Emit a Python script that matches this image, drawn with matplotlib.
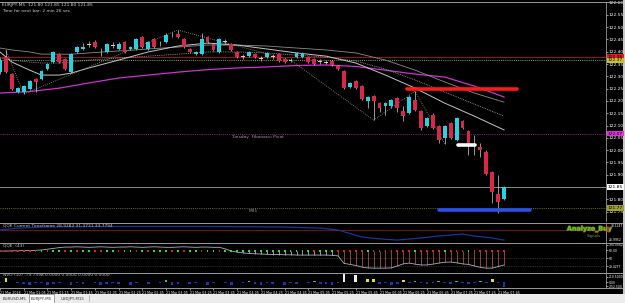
import matplotlib
matplotlib.use("Agg")
import matplotlib.pyplot as plt
import matplotlib.patheffects as pe
import matplotlib.transforms as mtransforms
from matplotlib.lines import Line2D
from matplotlib.patches import Rectangle

W, H = 625, 303

# ---- EURJPY M5 candles (21 Mar, 00:45 .. 07:50) ----
opens = [122.317, 122.378, 122.309, 122.236, 122.236, 122.248, 122.289, 122.289, 122.329, 122.358,
         122.390, 122.370, 122.317, 122.399, 122.411, 122.431, 122.439, 122.403, 122.399, 122.427,
         122.411, 122.439, 122.411, 122.411, 122.460, 122.411, 122.451, 122.433, 122.439, 122.470,
         122.472, 122.451, 122.411, 122.390, 122.390, 122.460, 122.431, 122.399, 122.443, 122.431,
         122.399, 122.382, 122.382, 122.390, 122.374, 122.378, 122.382, 122.390, 122.370, 122.366,
         122.378, 122.378, 122.378, 122.370, 122.362, 122.358, 122.362, 122.342, 122.321, 122.256,
         122.281, 122.260, 122.199, 122.220, 122.191, 122.179, 122.179, 122.212, 122.159, 122.151,
         122.204, 122.159, 122.098, 122.143, 122.098, 122.049, 122.110, 122.041, 122.118, 122.077,
         122.006, 122.012, 121.992, 121.911, 121.821, 121.801]
highs = [122.374, 122.407, 122.313, 122.256, 122.264, 122.285, 122.293, 122.325, 122.354, 122.403,
         122.395, 122.374, 122.395, 122.423, 122.435, 122.443, 122.447, 122.415, 122.435, 122.439,
         122.439, 122.443, 122.423, 122.456, 122.464, 122.443, 122.456, 122.443, 122.476, 122.480,
         122.488, 122.456, 122.415, 122.403, 122.476, 122.464, 122.435, 122.456, 122.451, 122.435,
         122.403, 122.390, 122.403, 122.395, 122.382, 122.399, 122.390, 122.395, 122.374, 122.374,
         122.399, 122.399, 122.382, 122.374, 122.370, 122.366, 122.366, 122.346, 122.325, 122.277,
         122.285, 122.264, 122.220, 122.224, 122.195, 122.195, 122.208, 122.216, 122.179, 122.224,
         122.240, 122.163, 122.134, 122.151, 122.102, 122.102, 122.114, 122.134, 122.122, 122.082,
         122.061, 122.029, 122.000, 121.915, 121.899, 121.854]
lows = [122.309, 122.313, 122.244, 122.232, 122.228, 122.244, 122.236, 122.285, 122.325, 122.354,
        122.354, 122.325, 122.313, 122.395, 122.407, 122.419, 122.415, 122.382, 122.395, 122.415,
        122.407, 122.395, 122.407, 122.407, 122.415, 122.407, 122.415, 122.423, 122.435, 122.460,
        122.456, 122.415, 122.395, 122.386, 122.386, 122.435, 122.403, 122.395, 122.431, 122.403,
        122.374, 122.370, 122.378, 122.374, 122.362, 122.374, 122.370, 122.358, 122.354, 122.358,
        122.374, 122.374, 122.354, 122.346, 122.350, 122.350, 122.342, 122.325, 122.248, 122.252,
        122.248, 122.204, 122.171, 122.122, 122.155, 122.143, 122.171, 122.155, 122.118, 122.147,
        122.159, 122.082, 122.094, 122.086, 122.029, 122.025, 122.045, 122.037, 122.086, 121.980,
        121.980, 121.972, 121.899, 121.785, 121.744, 121.797]
closes = [122.366, 122.317, 122.248, 122.252, 122.260, 122.281, 122.277, 122.321, 122.350, 122.399,
          122.358, 122.329, 122.390, 122.419, 122.419, 122.429, 122.419, 122.401, 122.431, 122.425,
          122.431, 122.399, 122.419, 122.451, 122.419, 122.439, 122.419, 122.431, 122.468, 122.472,
          122.460, 122.419, 122.399, 122.399, 122.451, 122.439, 122.407, 122.451, 122.441, 122.407,
          122.378, 122.380, 122.399, 122.378, 122.372, 122.395, 122.380, 122.362, 122.358, 122.364,
          122.395, 122.395, 122.358, 122.350, 122.360, 122.356, 122.346, 122.329, 122.252, 122.273,
          122.252, 122.208, 122.216, 122.199, 122.171, 122.191, 122.204, 122.171, 122.138, 122.216,
          122.163, 122.090, 122.130, 122.090, 122.041, 122.098, 122.049, 122.130, 122.090, 122.021,
          122.004, 122.000, 121.903, 121.830, 121.789, 121.850]

# moving averages (sampled at bar indices)
ma_idx = [0, 5, 10, 15, 20, 25, 30, 35, 40, 45, 50, 55, 60, 65, 70, 75, 80, 85]
ma_magenta = [122.232, 122.238, 122.252, 122.273, 122.293, 122.305, 122.317, 122.327, 122.334,
              122.338, 122.344, 122.346, 122.340, 122.325, 122.309, 122.297, 122.260, 122.216]
ema_idx = [0, 2, 5, 7, 10, 12, 15, 20, 25, 30, 35, 40, 45, 50, 55, 60, 65, 70, 75, 80, 85]
ema_fast = [122.399, 122.358, 122.325, 122.305, 122.305, 122.313, 122.334, 122.366, 122.399, 122.423,
            122.435, 122.427, 122.411, 122.395, 122.382, 122.354, 122.305, 122.252, 122.191, 122.138, 122.082]
ema_mid = [122.374, 122.366, 122.358, 122.354, 122.354, 122.358, 122.366, 122.374, 122.382, 122.390,
           122.399, 122.399, 122.395, 122.386, 122.378, 122.362, 122.329, 122.285, 122.236, 122.187, 122.138]
ema_slow = [122.415, 122.407, 122.399, 122.390, 122.390, 122.390, 122.395, 122.403, 122.411, 122.419,
            122.427, 122.427, 122.423, 122.415, 122.407, 122.395, 122.366, 122.325, 122.277, 122.232, 122.195]
zz_idx = [1, 4, 30, 49, 63, 70, 75]
zz_price = [122.407, 122.228, 122.488, 122.366, 122.122, 122.240, 122.025]

# horizontal levels
level_prices = [122.378, 122.365, 122.067, 121.850, 121.765]
level_colors = ["#8b1a1a", "#9a9a6a", "#a020a0", "#8a8a8a", "#6e6e2a"]
level_styles = ["-", ":", ":", "-", ":"]
level_tags = ["122.38", "122.37", "122.07", "121.85", "121.77"]
tag_colors = ["#e02020", "#c8c030", "#e030e0", "#ffffff", "#a0a030"]

# drawn zones: (start bar, end bar, price, colour)
zones = [(68.6, 87.2, 122.248, "#ff1a1a"), (77.2, 80.1, 122.021, "#ffffff"), (74.0, 89.4, 121.756, "#2a50e8")]

price_ticks = [121.75, 121.80, 121.90, 121.95, 122.00, 122.05, 122.10, 122.15, 122.20,
               122.25, 122.30, 122.35, 122.40, 122.45, 122.50, 122.55, 122.60]

# QQE current timeframe panel
qqe_tf_idx = [0, 3, 8, 17, 34, 47, 54, 57, 61, 64, 67, 71, 74, 78, 80, 83, 85]
qqe_tf = [34.4, 35.6, 36.3, 36.6, 36.6, 36.3, 35.6, 34.4, 30.1, 28.9, 28.2, 29.5, 30.7, 31.9, 30.7, 29.5, 28.2]
qqe_tf_level = 34.7

# QQE(43) panel
qqe_line = [76, 76, 77, 77, 78, 78, 79, 80, 83, 86, 89, 91,
            91, 92, 91, 90, 91, 92, 91, 90, 91, 91, 92, 91, 90, 91, 92, 91, 90, 90, 91, 92, 91, 90, 91, 91, 90,
            90, 84, 76, 72, 69, 67, 66, 65,
            64, 63, 63, 62, 62, 61, 61, 61, 61, 61, 61, 60,
            58, 30, 26, 22, 16, 13, 12, 12, 12, 13, 20, 28, 31, 27, 24, 24, 27, 31, 34, 35, 32, 28, 26,
            20, 15, 12, 12, 18, 24]
qqe_dots = ("rrrrrrr"
            "grggrgrggrrggrggrgrgggrgrggrggrg"
            "ggggggggggggggrggg"
            "rrrrrgrrrrrrrgrrrrgrrrgrrrrrr")
qqe_levels = [50, 20]

# NVO(10) histogram
nvo = [-1, 4, 0.5, -1, -2, -2.5, -1, -0.5, -2.5, -2, -0.5, 0.5, -2.5, -0.5, -2, 0.5, -0.5, -2.5, -2, -0.5,
       -2, 0.5, -2.5, -0.5, 0.5, -2, 0.5, -0.5, 2, -2.5, -2, 0.5, -2, -0.5, 0.5, -2.5, -0.5, 0.5, -0.5, -2.5,
       0.5, -0.5, 1.5, -2, -2.5, -0.5, -2, 0.5, -2.5, -0.5, -2, 0.5, -0.5, 1.5, -2, -1.5, -2.5, -0.5, 9, 0.5,
       7.5, 0.5, 3.5, 3, -1.5, -0.5, -2.5, -2, 2.5, -0.5, 1.5, -0.5, -2, -0.5, 1.5, -0.5, -2, 1, -0.5, -1.5,
       -0.5, 1.5, -0.5, 3, -0.5, -4.5]

time_ticks = list(range(0, 85, 4))
time_labels = ["21 Mar 2018", "21 Mar 01:05", "21 Mar 01:25", "21 Mar 01:45", "21 Mar 02:05",
               "21 Mar 02:25", "21 Mar 02:45", "21 Mar 03:05", "21 Mar 03:25", "21 Mar 03:45",
               "21 Mar 04:05", "21 Mar 04:25", "21 Mar 04:45", "21 Mar 05:05", "21 Mar 05:25",
               "21 Mar 05:45", "21 Mar 06:05", "21 Mar 06:25", "21 Mar 06:45", "21 Mar 07:05",
               "21 Mar 07:25", "21 Mar 07:45"]
tabs = ["EURUSD,M5", "EURJPY,M5", "USDJPY,M15"]

BULL, BEAR, WICK = "#27d3de", "#d8264c", "#d0d0d0"
FS = 3.2
FS_SUB = 2.2
XMAX = 606 / 5.93


def px_axes(fig, x0, y0, x1, y1, fs=FS):
    ax = fig.add_axes([x0 / W, 1 - y1 / H, (x1 - x0) / W, (y1 - y0) / H])
    ax.set_facecolor("black")
    ax.set_xlim(0, XMAX)
    for s in ax.spines.values():
        s.set_visible(False)
    ax.spines["right"].set_visible(True)
    ax.spines["right"].set_color("#9a9a9a")
    ax.spines["right"].set_linewidth(0.6)
    ax.yaxis.tick_right()
    ax.tick_params(axis="y", colors="white", labelsize=fs, length=1.2, width=0.4, pad=0.6)
    ax.tick_params(axis="x", bottom=False, labelbottom=False)
    return ax


def main():
    fig = plt.figure(figsize=(W / 100, H / 100), dpi=100, facecolor="black")

    # ---------- main price panel ----------
    ax = px_axes(fig, 0, 2, 606, 221)
    ax.set_ylim(121.712, 122.602)
    ax.set_yticks(price_ticks)
    ax.set_yticklabels([f"{p:.2f}" for p in price_ticks])

    for p, c, ls in zip(level_prices, level_colors, level_styles):
        ax.axhline(p, color=c, lw=0.7, ls=ls if ls == "-" else (0, (1, 1.2)), zorder=1)
    ax.text(39, level_prices[2] - 0.004, "Tuesday  Fibonacci Pivot", color="#a0a0a0",
            fontsize=FS, va="top", zorder=2)
    ax.text(42, level_prices[4] - 0.004, "MS1", color="#a0a0a0", fontsize=FS, va="top", zorder=2)

    ax.plot(ma_idx, ma_magenta, color="#cc33cc", lw=0.9, zorder=2)
    ax.plot(ema_idx, ema_slow, color="#8c8c8c", lw=0.6, zorder=2)
    ax.plot(ema_idx, ema_mid, color="#a8a8a8", lw=0.6, ls=(0, (1, 1.2)), zorder=2)
    ax.plot(ema_idx, ema_fast, color="#c4c4c4", lw=0.7, zorder=2)
    ax.plot(zz_idx, zz_price, color="#9a9a80", lw=0.6, ls=(0, (1, 1.5)), zorder=2)

    for i, (o, h, l, c) in enumerate(zip(opens, highs, lows, closes)):
        col = BULL if c >= o else BEAR
        ax.vlines(i, l, h, color=WICK, lw=0.5, zorder=3)
        ax.bar(i, abs(c - o) if abs(c - o) > 0.0015 else 0.0015, bottom=min(o, c), width=0.65,
               color=col if abs(c - o) > 0.003 else WICK, edgecolor="none", zorder=4)

    for x0, x1, p, c in zones:
        ax.plot([x0, x1], [p, p], color=c, lw=2.6, solid_capstyle="round", zorder=5)

    tr = mtransforms.blended_transform_factory(ax.transAxes, ax.transData)
    for p, t, c in zip(level_prices, level_tags, tag_colors):
        ax.text(1.003, p, t, transform=tr, fontsize=FS, color="black", va="center", ha="left",
                bbox=dict(boxstyle="square,pad=0.15", fc=c, ec="none"), zorder=6, clip_on=False)

    fig.text(2 / W, 1 - 5 / H, "EURJPY,M5  121.80 121.85 121.80 121.85", color="#d0d0d0",
             fontsize=FS, va="center")
    fig.text(2 / W, 1 - 10.5 / H, "Time for next bar: 2 min 26 sec", color="#d0d0d0",
             fontsize=FS, va="center")

    # ---------- QQE current timeframe ----------
    ax2 = px_axes(fig, 0, 224, 606, 242)
    ax2.set_ylim(27.0, 38.12)
    ax2.set_yticks([])
    ax2.axhline(qqe_tf_level, color="#7a1010", lw=0.7)
    ax2.plot(qqe_tf_idx, qqe_tf, color="#2030a0", lw=0.9)
    ax2.text(0.5, 37.2, "QQE Current Timeframe 28.9282 31.3731 33.7794", color="#c0c0c0",
             fontsize=FS, va="center")
    ax2.text(95.6, qqe_tf_level, "Analyze_Buy", color="#33e033", fontsize=4.6, weight="bold",
             va="center", path_effects=[pe.withStroke(linewidth=0.8, foreground="#a05010")])
    ax2.text(99, 30.8, "Signals", color="#8a8a4a", fontsize=2.8, va="center")
    tr2 = mtransforms.blended_transform_factory(ax2.transAxes, ax2.transData)
    ax2.text(1.002, qqe_tf_level, " ", transform=tr2, fontsize=2.4, va="center",
             bbox=dict(boxstyle="square,pad=0.1", fc="#e02020", ec="none"), clip_on=False)
    ax2.text(1.008, 37.0, "38.1247", transform=tr2, fontsize=FS_SUB, color="white", va="center", clip_on=False)
    ax2.text(1.004, 28.0, "26.9952", transform=tr2, fontsize=FS_SUB, color="white", va="center", clip_on=False)

    # ---------- QQE(43) ----------
    ax3 = px_axes(fig, 0, 243, 606, 272, FS_SUB)
    ax3.set_ylim(-2.5, 106.25)
    ax3.set_yticks([100, 80, 50, 20])
    ax3.set_yticklabels(["100.0062", "80.00", "50", "20.4277"])
    for lv in qqe_levels:
        ax3.axhline(lv, color="#5a5a5a", lw=0.5, ls=(0, (1, 1.5)))
    idx = list(range(len(qqe_line)))
    for i, v in enumerate(qqe_line):
        if i >= 39:
            ax3.vlines(i, v, 77, color="#c8643c" if i >= 57 else "#d8d8d8", lw=0.5)
    ax3.plot(idx, qqe_line, color="#a8b0c8", lw=0.6)
    ax3.scatter(idx, [77] * len(idx), s=1.6, marker="s", linewidths=0,
                c=["#e02020" if d == "r" else "#30e030" for d in qqe_dots], zorder=3)
    ax3.text(0.5, 98, "QQE  (43)", color="#c0c0c0", fontsize=FS, va="center")

    # ---------- NVO ----------
    ax4 = px_axes(fig, 0, 273, 606, 288, FS_SUB)
    ax4.set_ylim(-6, 9)
    ax4.set_yticks([5, 0, -4])
    ax4.set_yticklabels(["210.5000", "0.00", "-252.500"])
    cols = ["#f0f0f0" if v >= 6 else "#e0e030" if v >= 2.2 else "#30d030" if v > 0 else "#2030c0"
            for v in nvo]
    ax4.bar(range(len(nvo)), nvo, width=0.45, color=cols)
    ax4.text(0.5, 6.5, "NVO (10) -79.7398 0.0000 0.0000 0.0000 0.0000", color="#c0c0c0",
             fontsize=FS, va="center")
    ax4.set_xticks(time_ticks)
    ax4.set_xticklabels(time_labels)
    ax4.tick_params(axis="x", bottom=True, labelbottom=True, colors="white", labelsize=2.3,
                    length=1.5, width=0.4, pad=0.8)
    for lab in ax4.get_xticklabels():
        lab.set_ha("left")

    # panel separators and frame
    for y in [1.5, 222.5, 242.5, 272.5, 288]:
        fig.add_artist(Line2D([0, 622 / W], [1 - y / H] * 2, color="#9a9a9a", lw=0.7))
    fig.add_artist(Rectangle((622.5 / W, 1 - 294 / H), 2.5 / W, 294 / H, color="#c8c8c8", lw=0,
                             zorder=-1))

    # symbol tabs
    tab_ax = fig.add_axes([0, 0, 1, 9.5 / H])
    tab_ax.set_facecolor("#ececec")
    tab_ax.set_xlim(0, W)
    tab_ax.set_ylim(0, 1)
    tab_ax.axis("off")
    tab_ax.add_patch(Rectangle((0, 0), W, 1, color="#ececec", lw=0))
    tab_ax.add_patch(Rectangle((29, 0.05), 25, 0.85, fc="white", ec="#808080", lw=0.5))
    for x, t in zip([3, 31, 61], tabs):
        tab_ax.text(x, 0.45, t, fontsize=2.9, color="#303030", va="center")
    tab_ax.plot([89, 89], [0.2, 0.8], color="#909090", lw=0.4)

    fig.savefig("out.png", dpi=100, facecolor="black")


if __name__ == "__main__":
    main()
